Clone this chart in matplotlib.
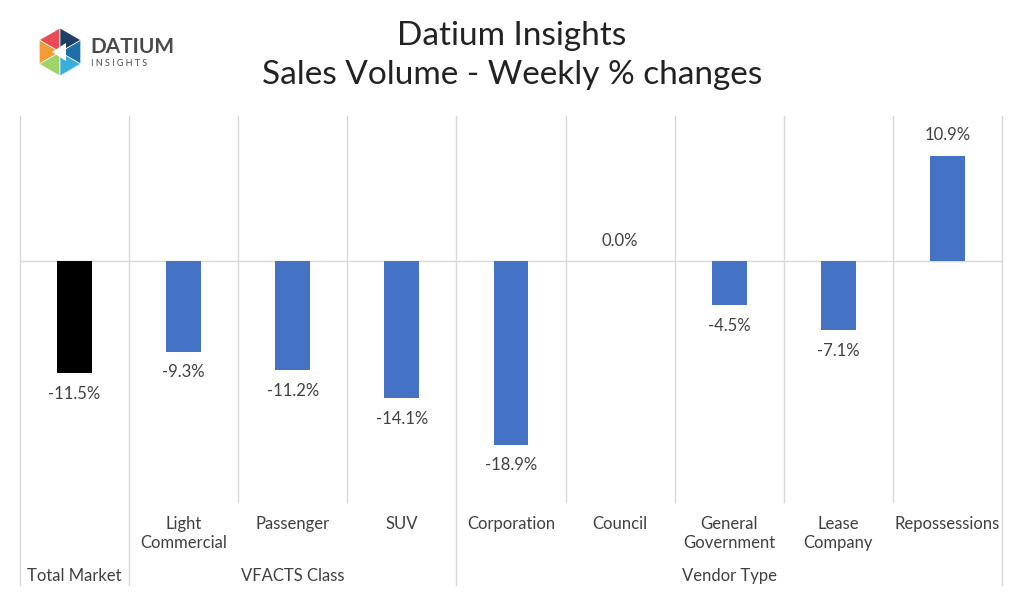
import matplotlib.pyplot as plt
from matplotlib.patches import Polygon
from matplotlib import transforms
import numpy as np

plt.rcParams['font.family'] = ['Lato', 'DejaVu Sans']

# data
categories = ["", "Light\nCommercial", "Passenger", "SUV",
              "Corporation", "Council", "General\nGovernment", "Lease\nCompany",
              "Repossessions"]
changes = [-11.5, -9.3, -11.2, -14.1, -18.9, 0.0, -4.5, -7.1, 10.9]
groups = ["Total Market", "VFACTS Class", "Vendor Type"]
group_spans = [(0, 0), (1, 3), (4, 8)]

W, H = 1024, 594
fig = plt.figure(figsize=(W / 100, H / 100), dpi=100)


def fx(px):
    return px / W


def fy(py):
    return 1 - py / H


ax = fig.add_axes([fx(20), fy(502), fx(1002) - fx(20), fy(116) - fy(502)])
ax.set_xlim(-0.5, len(categories) - 0.5)
ax.set_ylim(-24.8, 15)
ax.axis('off')

text_col = '#404040'
grid_col = '#d9d9d9'
colors = ['black'] + ['#4472C4'] * (len(categories) - 1)

x = np.arange(len(categories))
ax.bar(x, changes, width=0.32, color=colors, zorder=3)
ax.axhline(0, color=grid_col, lw=1, zorder=1)

# data labels
for xi, v in zip(x, changes):
    if v >= 0:
        ax.annotate(f"{v:.1f}%", (xi, v), xytext=(0, 9), textcoords='offset points',
                    ha='center', va='bottom', fontsize=12, color=text_col)
    else:
        ax.annotate(f"{v:.1f}%", (xi, v), xytext=(0, -9), textcoords='offset points',
                    ha='center', va='top', fontsize=12, color=text_col)

# separators: group boundaries run down through the label area
bounds = {s - 0.5 for s, e in group_spans} | {group_spans[-1][1] + 0.5}
axes_h = 502 - 116
for i in range(len(categories) + 1):
    xb = i - 0.5
    y0 = -(585 - 502) / axes_h if xb in bounds else 0
    ax.plot([xb, xb], [y0, 1], transform=ax.get_xaxis_transform(),
            color=grid_col, lw=1, clip_on=False, zorder=1)

blend = transforms.blended_transform_factory(ax.transData, fig.transFigure)

# category labels
for xi, c in zip(x, categories):
    ax.text(xi, fy(516), c, transform=blend, ha='center', va='top',
            fontsize=12, color=text_col, linespacing=1.25)

# group labels
for g, (s, e) in zip(groups, group_spans):
    ax.text((s + e) / 2, fy(576), g, transform=blend, ha='center', va='center',
            fontsize=12, color=text_col)

# title
fig.text(0.5, fy(36), "Datium Insights", ha='center', va='center', fontsize=24, color='#222222')
fig.text(0.5, fy(75), "Sales Volume - Weekly % changes", ha='center', va='center',
         fontsize=24, color='#222222')

# simple logo
cx, cy, r = 60, 52, 24
ang = np.deg2rad(np.arange(90, 450, 60))
verts = [(fx(cx + r * np.cos(a)), fy(cy - r * np.sin(a))) for a in ang]
center = (fx(cx), fy(cy))
tri_cols = ['#e84b55', '#f39c33', '#a0d468', '#3bafda', '#1e6fa8', '#1d3e66']
for k in range(6):
    fig.patches.append(Polygon([center, verts[k], verts[(k + 1) % 6]], closed=True,
                               transform=fig.transFigure, facecolor=tri_cols[k],
                               edgecolor='white', lw=0.5))
fig.patches.append(Polygon([(fx(cx - 8), fy(cy)), (fx(cx + 6), fy(cy - 9)), (fx(cx + 6), fy(cy + 9))],
                           closed=True, transform=fig.transFigure, facecolor='white'))
fig.text(fx(90), fy(47), "DATIUM", ha='left', va='center', fontsize=15,
         color='#4a4a4a', fontweight='bold')
fig.text(fx(91), fy(63), "I N S I G H T S", ha='left', va='center', fontsize=6.5,
         color='#4a4a4a')

fig.savefig("out.png", dpi=100)
